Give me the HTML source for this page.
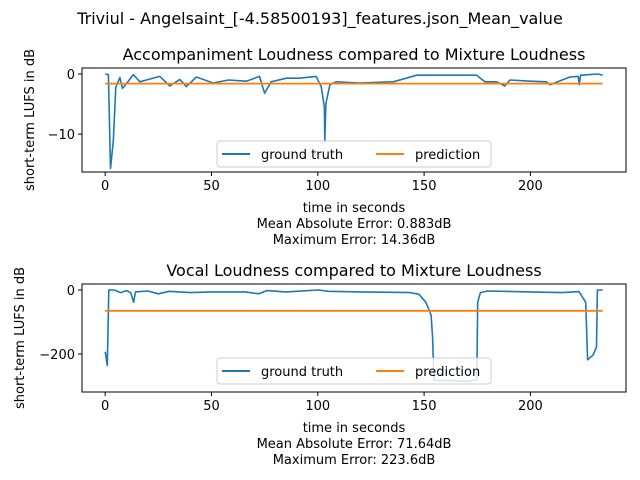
<!DOCTYPE html>
<html><head><meta charset="utf-8"><style>
body{margin:0;background:#fff;}
svg{display:block;font-family:"DejaVu Sans","Liberation Sans",sans-serif;}
</style></head><body>
<svg id="fig" width="640" height="480" xmlns="http://www.w3.org/2000/svg">
<text x="320" y="24" font-size="16" text-anchor="middle">Triviul - Angelsaint_[-4.58500193]_features.json_Mean_value</text>
</svg>
<script>
const accT=[0,1.5,2.5,3.8,5,6.9,8.1,10,13.2,16.3,19.4,25.7,30.4,35.1,38.2,42.9,50.7,58,66.4,72.6,75,78.1,85.2,91.4,99.2,101.6,103.1,103.3,103.8,105.7,108.5,119.5,135.5,146.5,174.7,178.6,184.1,188,190.4,200,207.6,209.2,218.6,222.5,223,223.6,231.7,234];
const accV=[0,-0.1,-15.7,-11.2,-2.2,-0.6,-2.4,-1.6,-0.1,-1.3,-1.0,-0.4,-2.0,-0.9,-2.1,-0.5,-1.5,-1.0,-1.2,-0.4,-3.2,-1.3,-0.7,-0.7,-0.4,-2.1,-5.5,-11.2,-4.9,-1.8,-1.3,-1.5,-1.3,-0.2,-0.2,-1.3,-1.3,-2.0,-1.0,-1.2,-1.3,-1.8,-0.5,-0.4,-1.8,-0.2,0.0,-0.2];
const accPred=-1.6;
const vocT=[0,1,1.7,4.3,7.3,10,12,13.4,14.2,20,25,30,40,50,66,72.2,76,85,100.3,105,120,143.4,147.5,150.8,153.3,154,154.6,163.2,169.9,174.8,175.2,176.5,179.8,200,215,222.8,223.6,226,226.9,229.5,231.1,231.5,234];
const vocV=[-193,-236,0,0,-8,-2,-8,-38,-6,-3,-12,-4,-8,-6,-6,-12,-2,-6,0,-4,-6,-8,-13,-38,-78,-148,-283,-283,-286,-280,-38,-8,-3,-6,-8,-5,-13,-38,-218,-203,-178,0,0];
const vocPred=-65;
const xTicks=[0,50,100,150,200];
const accYTicks=[0,-10];
const vocYTicks=[0,-200];
const NS="http://www.w3.org/2000/svg";
const svg=document.getElementById('fig');
function mk(tag,attrs,parent){const e=document.createElementNS(NS,tag);for(const k in attrs)e.setAttribute(k,attrs[k]);(parent||svg).appendChild(e);return e;}
function panel(cfg){
 const g=mk('g',{});
 
 
 const L=82,R=626,T=cfg.top,B=cfg.bottom;
 const xs=t=>105.2+t*2.126;
 const ys=v=>T+(cfg.ymax-v)/(cfg.ymax-cfg.ymin)*(B-T);
 const tt=mk('text',{x:(L+R)/2,y:T-8,'font-size':16,'text-anchor':'middle'},g);tt.textContent=cfg.title;
 
 
 let d='';cfg.t.forEach((t,i)=>{d+=(i?'L':'M')+xs(t).toFixed(1)+','+ys(cfg.v[i]).toFixed(1);});
 const gt=mk('path',{d:d,fill:'none',stroke:'#1f77b4','stroke-width':1.6,'stroke-linejoin':'round'},g);
 
 
 const pr=mk('line',{x1:xs(cfg.t[0]),x2:xs(cfg.t[cfg.t.length-1]),y1:ys(cfg.pred),y2:ys(cfg.pred),stroke:'#ff7f0e','stroke-width':1.8},g);
 
 
 mk('rect',{x:L,y:T,width:R-L,height:B-T,fill:'none',stroke:'#000','stroke-width':1},g);
 xTicks.forEach(t=>{const x=xs(t);mk('line',{x1:x,x2:x,y1:B,y2:B+4,stroke:'#000'},g);
  const l=mk('text',{x:x,y:B+18,'font-size':13,'text-anchor':'middle'},g);l.textContent=t;
  
  });
 cfg.yt.forEach(v=>{const y=ys(v);mk('line',{x1:L-4,x2:L,y1:y,y2:y,stroke:'#000'},g);
  const l=mk('text',{x:L-7,y:y+5,'font-size':13,'text-anchor':'end'},g);l.textContent=v<0?'\u2212'+(-v):v;
  
  });
 const yl=mk('text',{transform:`translate(${cfg.ylx},${(T+B)/2}) rotate(-90)`,'font-size':13,'text-anchor':'middle'},g);yl.textContent='short-term LUFS in dB';
 
 
 const lines=['time in seconds','Mean Absolute Error: '+cfg.mae,'Maximum Error: '+cfg.maxe];
 lines.forEach((s,i)=>{const l=mk('text',{x:(L+R)/2,y:B+40+i*16,'font-size':13,'text-anchor':'middle'},g);l.textContent=s;
  
  });
 const lg=mk('g',{},g);
 
 
 const ly=cfg.legY;
 mk('rect',{x:217,y:ly,width:274,height:26,rx:3,fill:'#fff','fill-opacity':0.8,stroke:'#ccc'},lg);
 mk('line',{x1:222,x2:250,y1:ly+13,y2:ly+13,stroke:'#1f77b4','stroke-width':2},lg);
 const a=mk('text',{x:261,y:ly+18,'font-size':13},lg);a.textContent='ground truth';
 
 
 mk('line',{x1:376,x2:404,y1:ly+13,y2:ly+13,stroke:'#ff7f0e','stroke-width':2},lg);
 const b=mk('text',{x:415,y:ly+18,'font-size':13},lg);b.textContent='prediction';
 
 
}
panel({name:'accompaniment-panel',title:'Accompaniment Loudness compared to Mixture Loudness',top:68,bottom:172,ymax:1.0,ymin:-16.3,t:accT,v:accV,pred:accPred,yt:accYTicks,ylx:34,mae:'0.883dB',maxe:'14.36dB',legY:141});
panel({name:'vocal-panel',title:'Vocal Loudness compared to Mixture Loudness',top:284,bottom:392,ymax:18.75,ymin:-318.75,t:vocT,v:vocV,pred:vocPred,yt:vocYTicks,ylx:24,mae:'71.64dB',maxe:'223.6dB',legY:358});
</script>
</body></html>
